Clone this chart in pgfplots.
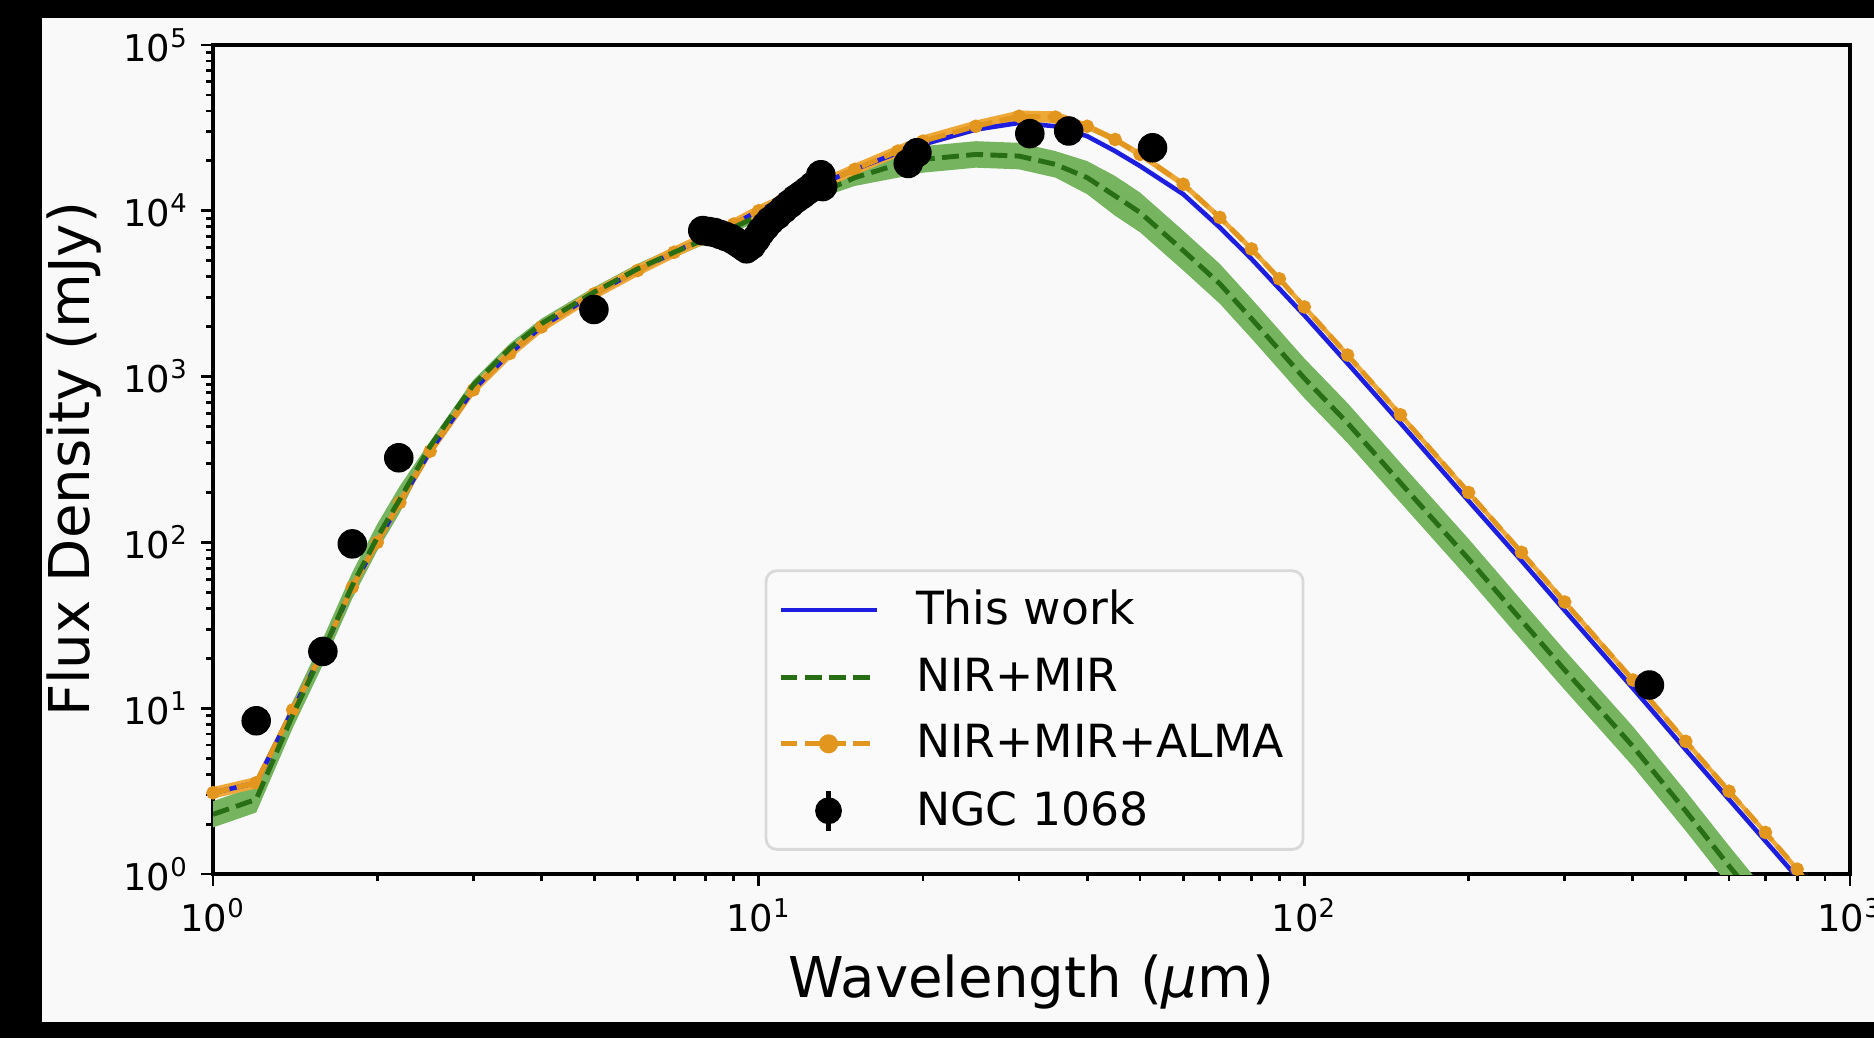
\documentclass[border=0pt]{standalone}
\usepackage{fontspec}
\setmainfont{DejaVu Sans}
\usepackage{pgfplots}
\usepackage{pgfplotstable}
\pgfplotsset{compat=1.18}
\usepgfplotslibrary{fillbetween}

\definecolor{bgcol}{RGB}{249,249,249}
\definecolor{cblue}{RGB}{30,30,225}
\definecolor{cgreen}{RGB}{40,110,20}
\definecolor{gband}{RGB}{118,180,95}
\definecolor{corange}{RGB}{226,150,30}
\definecolor{oband}{RGB}{238,168,55}

% model SEDs: wavelength (micron), flux (mJy)
\pgfplotstableread{
lam O Olo Ohi B G Glo Ghi
1 3.09 2.85 3.35 3.09 2.29 1.91 2.75
1.2 3.55 3.28 3.85 3.55 2.82 2.35 3.39
1.4 9.77 9.02 10.6 9.77 9.12 7.59 11.0
1.6 22.9 21.1 24.8 22.9 22.9 19.1 27.5
1.8 53.7 49.6 58.2 53.7 55.0 45.8 66.1
2 100 92.3 108 100 107 89.0 129
2.2 174 161 189 174 182 151 219
2.5 355 328 385 355 380 355 407
3 832 768 902 832 891 831 955
3.5 1380 1274 1496 1380 1479 1380 1585
4 1995 1841 2163 1995 2089 1949 2239
5 3162 2919 3428 3162 3236 3019 3469
6 4365 4029 4732 4365 4467 4168 4789
7 5623 5190 6095 5623 5623 5246 6028
8 6918 6385 7499 6918 6761 6308 7248
9 8318 7678 9017 8318 7943 7411 8515
10 10000 9230 10840 10000 9333 8708 10005
11 11482 10598 12446 11482 10471 9769 11225
12 12882 11890 13964 12882 11749 10962 12595
13 14454 13341 15668 14454 12882 12019 13810
15 17783 16414 19277 17783 15849 14121 17783
18 22909 21145 24833 22387 19055 15854 22904
20 26303 24278 28512 25119 20417 16987 24541
25 32359 29867 35077 30903 21878 18203 26297
30 37154 34293 40275 33884 21380 17788 25699
35 36728 33900 39813 32359 19055 15854 22904
40 32359 30903 33880 28184 15849 12589 19953
45 26915 25704 28180 22909 12303 9338 16215
50 21878 20893 22906 18621 9772 7417 12879
60 14454 13804 15133 12589 5754 4367 7584
70 9120 8710 9549 7943 3631 2756 4786
80 5888 5623 6165 5129 2239 1699 2951
90 3890 3715 4073 3388 1445 1097 1905
100 2630 2512 2754 2344 977 742 1288
120 1349 1288 1412 1202 525 398 692
150 589 562 617 525 229 174 302
200 200 191 209 178 79.4 60.3 105
250 87.1 83.2 91.2 77.6 33.9 25.7 44.7
300 43.7 41.7 45.8 38.9 17.0 12.9 22.4
400 14.8 14.1 15.5 13.2 5.89 4.47 7.76
500 6.31 6.03 6.61 5.62 2.40 1.82 3.16
600 3.16 3.02 3.31 2.82 1.12 0.850 1.48
700 1.78 1.70 1.86 1.58 0.603 0.458 0.795
800 1.07 1.02 1.12 0.955 0.34 0.258 0.448
900 0.646 0.617 0.676 0.575 0.20 0.152 0.264
}\models

% NGC 1068 photometry
\pgfplotstableread{
lam F
1.2 8.4
1.59 22
1.80 98
2.19 324
4.99 2540
18.8 19300
19.5 22400
31.4 29200
37.0 30300
52.7 24000
429 13.8
}\phot

% N-band spectrum
\pgfplotstableread{
lam F
7.9 7600
8.1 7500
8.3 7400
8.5 7200
8.7 7000
8.9 6800
9.1 6500
9.3 6200
9.5 5900
9.7 6200
9.9 6800
10.1 7500
10.3 8100
10.5 8700
10.8 9400
11.1 10200
11.4 11000
11.7 11800
12.0 12500
12.3 13300
12.6 14200
12.9 15100
13.0 16500
13.1 14000
}\spec

\begin{document}
\begin{tikzpicture}
\begin{axis}[
  scale only axis,
  width=16.37cm, height=8.29cm,
  set layers,
  clip mode=individual,
  xmode=log, ymode=log,
  xmin=1, xmax=1000, ymin=1, ymax=100000,
  xtick={1,10,100,1000},
  xticklabels={10\textsuperscript{0},10\textsuperscript{1},10\textsuperscript{2},10\textsuperscript{3}},
  ytick={1,10,100,1000,10000,100000},
  yticklabels={10\textsuperscript{0},10\textsuperscript{1},10\textsuperscript{2},10\textsuperscript{3},10\textsuperscript{4},10\textsuperscript{5}},
  minor xtick={2,3,4,5,6,7,8,9,20,30,40,50,60,70,80,90,200,300,400,500,600,700,800,900},
  minor ytick={2,3,4,5,6,7,8,9,20,30,40,50,60,70,80,90,200,300,400,500,600,700,800,900,
    2000,3000,4000,5000,6000,7000,8000,9000,20000,30000,40000,50000,60000,70000,80000,90000},
  tick pos=left,
  tick align=outside,
  major tick length=0.12cm,
  minor tick length=0.07cm,
  every tick/.style={black, line width=0.8pt},
  axis line style={black, line width=0.9pt},
  axis background/.style={fill=bgcol},
  tick label style={font=\fontsize{10.5}{12}\selectfont},
  label style={font=\fontsize{16}{19}\selectfont},
  xlabel={Wavelength (\textit{μ}m)},
  ylabel={Flux Density (mJy)},
  xlabel style={at={(axis description cs:0.5,-0.130)}, anchor=center},
  ylabel style={at={(axis description cs:-0.085,0.5)}, anchor=center},
  legend image code/.code={\draw[mark repeat=2,mark phase=2,#1] plot coordinates {(0cm,0cm)(0.48cm,0cm)(0.96cm,0cm)};},
  legend cell align=left,
  legend style={at={(0.337,0.028)}, anchor=south west,
    font=\fontsize{13}{16}\selectfont,
    draw=black!15, line width=0.8pt, rounded corners=3pt, fill=white!98!black,
    row sep=0.14cm, inner xsep=0.12cm, inner ysep=0.12cm,
    /tikz/every odd column/.append style={column sep=0.3cm}},
]
% page background: dark frame and light figure area
\begin{pgfonlayer}{axis background}
\fill[black] ([shift={(-2.13cm,-1.64cm)}]rel axis cs:0,0) rectangle ([shift={(0.24cm,0.45cm)}]rel axis cs:1,1);
\fill[bgcol] ([shift={(-1.71cm,-1.48cm)}]rel axis cs:0,0) rectangle ([shift={(0.24cm,0.27cm)}]rel axis cs:1,1);
\end{pgfonlayer}

% NIR+MIR uncertainty band
\addplot[draw=none, name path=ghi, forget plot] table[x=lam, y=Ghi]{\models};
\addplot[draw=none, name path=glo, forget plot] table[x=lam, y=Glo]{\models};
\addplot[fill=gband, draw=none, forget plot] fill between[of=ghi and glo];
% NIR+MIR+ALMA uncertainty band
\addplot[draw=none, name path=ohi, forget plot] table[x=lam, y=Ohi]{\models};
\addplot[draw=none, name path=olo, forget plot] table[x=lam, y=Olo]{\models};
\addplot[fill=oband, draw=none, forget plot] fill between[of=ohi and olo];

% This work
\addplot[cblue, line width=1.3pt, forget plot] table[x=lam, y=B]{\models};
% NIR+MIR+ALMA
\addplot[corange, line width=1.4pt, dash pattern=on 4.8pt off 2.1pt,
  mark=*, mark size=1.2pt, mark options={solid}, forget plot] table[x=lam, y=O]{\models};
% NIR+MIR
\addplot[cgreen, line width=1.4pt, dash pattern=on 4.8pt off 2.1pt, forget plot] table[x=lam, y=G]{\models};

% NGC 1068 data
\addplot[only marks, mark=*, mark size=4pt, black, forget plot] table[x=lam, y=F]{\spec};
\addplot[only marks, mark=*, mark size=4pt, black, forget plot] table[x=lam, y=F]{\phot};

\addlegendimage{cblue, line width=1.3pt}
\addlegendentry{This work}
\addlegendimage{cgreen, line width=1.4pt, dash pattern=on 4.8pt off 2.1pt}
\addlegendentry{NIR+MIR}
\addlegendimage{corange, line width=1.4pt, dash pattern=on 4.8pt off 2.1pt, mark=*, mark size=2pt, mark options={solid}}
\addlegendentry{NIR+MIR+ALMA}
\addlegendimage{black, legend image code/.code={
  \draw[black, line width=1.3pt] (0.48cm,-0.2cm) -- (0.48cm,0.2cm);
  \fill[black] (0.48cm,0cm) circle (0.12cm);}}
\addlegendentry{NGC 1068}
\end{axis}
\pgfresetboundingbox
\useasboundingbox (-2.13,-1.64) rectangle (16.61,8.74);
\end{tikzpicture}
\end{document}
